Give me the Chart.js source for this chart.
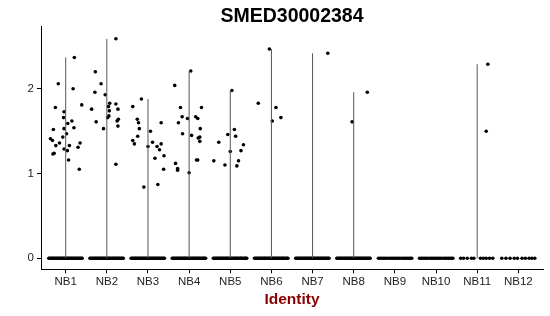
<!DOCTYPE html>
<html>
<head>
<meta charset="utf-8">
<script src="https://cdn.jsdelivr.net/npm/chart.js@4.4.1/dist/chart.umd.min.js"></script>
<style>
  html, body { margin: 0; padding: 0; background: #fff; }
  #wrap { width: 550px; height: 316px; }
</style>
</head>
<body>
<div id="wrap"><canvas id="c"></canvas></div>
<script>
const categories = ["NB1", "NB2", "NB3", "NB4", "NB5", "NB6", "NB7", "NB8", "NB9", "NB10", "NB11", "NB12"];
const yTicks = [0, 1, 2];

// violin extent (max expression) per identity
const violinMax = [2.37, 2.59, 1.88, 2.21, 1.98, 2.47, 2.42, 1.96, 0, 0, 2.29, 0];

// non-zero cells: [jitter offset, expression]
const nb1Points = [[0.21, 2.37], [-0.18, 2.06], [0.18, 2.0], [0.39, 1.81], [-0.25, 1.78], [-0.04, 1.73], [-0.05, 1.66], [0.15, 1.62], [0.05, 1.59], [0.2, 1.54], [-0.3, 1.52], [-0.04, 1.53], [0.02, 1.47], [-0.07, 1.43], [-0.37, 1.41], [-0.32, 1.39], [-0.15, 1.36], [0.35, 1.36], [-0.24, 1.33], [0.09, 1.33], [0.3, 1.31], [-0.04, 1.29], [0.04, 1.27], [-0.28, 1.24], [-0.31, 1.23], [0.07, 1.16], [0.33, 1.05]];
const nb2Points = [[0.22, 2.59], [-0.28, 2.2], [-0.14, 2.06], [-0.29, 1.96], [-0.04, 1.93], [0.07, 1.83], [0.22, 1.82], [0.04, 1.79], [-0.37, 1.76], [0.27, 1.76], [0.06, 1.74], [0.05, 1.68], [0.02, 1.66], [0.28, 1.64], [0.25, 1.62], [-0.26, 1.61], [0.27, 1.56], [-0.08, 1.53], [0.22, 1.11]];
const nb3Points = [[-0.16, 1.88], [-0.37, 1.79], [-0.26, 1.64], [-0.23, 1.6], [0.32, 1.6], [-0.21, 1.53], [0.06, 1.5], [-0.25, 1.44], [-0.37, 1.39], [-0.33, 1.35], [0.11, 1.37], [0.32, 1.35], [0.0, 1.32], [0.22, 1.32], [0.28, 1.28], [0.39, 1.21], [0.17, 1.18], [0.38, 1.05], [-0.1, 0.84], [0.24, 0.87]];
const nb4Points = [[0.04, 2.21], [-0.35, 2.04], [-0.21, 1.78], [0.3, 1.78], [-0.17, 1.67], [-0.04, 1.65], [0.16, 1.67], [0.21, 1.65], [-0.26, 1.6], [0.27, 1.53], [-0.16, 1.47], [0.06, 1.45], [0.26, 1.43], [0.22, 1.42], [0.26, 1.38], [0.18, 1.16], [0.21, 1.16], [-0.33, 1.12], [-0.28, 1.06], [-0.28, 1.04], [0.0, 1.01]];
const nb5Points = [[0.04, 1.98], [0.1, 1.52], [-0.06, 1.46], [0.13, 1.44], [-0.28, 1.37], [0.32, 1.34], [0.26, 1.27], [0.0, 1.26], [-0.4, 1.15], [0.2, 1.15], [-0.13, 1.1], [0.16, 1.09]];
const nb6Points = [[-0.05, 2.47], [-0.32, 1.83], [0.11, 1.78], [0.02, 1.62], [0.23, 1.66]];
const nb7Points = [[0.37, 2.42]];
const nb8Points = [[-0.04, 1.61], [0.33, 1.96]];
const nb11Points = [[0.26, 2.29], [0.22, 1.5]];

// jitter offsets of the zero-expression cells
const zeroDense = [-0.41, -0.39, -0.36, -0.34, -0.31, -0.29, -0.27, -0.24, -0.22, -0.19, -0.17, -0.15, -0.12, -0.1, -0.08, -0.05, -0.03, 0.0, 0.02, 0.04, 0.07, 0.09, 0.12, 0.14, 0.16, 0.19, 0.21, 0.24, 0.26, 0.28, 0.31, 0.33, 0.36, 0.38, 0.4];
const zeroMid = [-0.4, -0.36, -0.32, -0.28, -0.24, -0.2, -0.15, -0.11, -0.07, -0.03, 0.01, 0.05, 0.09, 0.13, 0.18, 0.22, 0.26, 0.3, 0.34, 0.38, 0.41];
const zeroNB11 = [-0.4, -0.33, -0.24, -0.14, -0.08, 0.08, 0.15, 0.22, 0.3, 0.38];
const zeroNB12 = [-0.4, -0.3, -0.2, -0.1, -0.02, 0.09, 0.17, 0.26, 0.33, 0.4];

const groupPoints = [nb1Points, nb2Points, nb3Points, nb4Points, nb5Points, nb6Points, nb7Points, nb8Points, [], [], nb11Points, []];
const groupZeros = [zeroDense, zeroDense, zeroDense, zeroDense, zeroDense, zeroDense, zeroDense, zeroDense, zeroMid, zeroMid, zeroNB11, zeroNB12];

const violinData = [];
violinMax.forEach((m, i) => {
  if (m > 0) violinData.push({ x: i + 1, y: 0 }, { x: i + 1, y: m }, { x: i + 1, y: null });
});

const exprData = [];
groupPoints.forEach((pts, i) => pts.forEach(([o, v]) => exprData.push({ x: i + 1 + o, y: v })));

const zeroData = [];
groupZeros.forEach((offs, i) => offs.forEach((o) => zeroData.push({ x: i + 1 + o, y: 0 })));

const FONT = "'Liberation Sans', Arial, sans-serif";

new Chart(document.getElementById("c"), {
  type: "scatter",
  data: {
    datasets: [
      {
        type: "line",
        data: violinData,
        borderColor: "#555",
        borderWidth: 1,
        pointRadius: 0,
        spanGaps: false,
        fill: false,
      },
      {
        data: zeroData,
        backgroundColor: "#000",
        borderWidth: 0,
        pointRadius: 1.8,
      },
      {
        data: exprData,
        backgroundColor: "#000",
        borderWidth: 0,
        pointRadius: 1.8,
      },
    ],
  },
  options: {
    responsive: true,
    maintainAspectRatio: false,
    animation: false,
    layout: { padding: { left: 0, right: 7, top: 0, bottom: 0 } },
    scales: {
      x: {
        type: "linear",
        min: 0.4,
        max: 12.6,
        afterBuildTicks: (s) => { s.ticks = categories.map((c, i) => ({ value: i + 1 })); },
        afterFit: (s) => { s.height = 46.7; },
        grid: { display: true, drawOnChartArea: false, drawTicks: true, tickLength: 4, color: "#000", lineWidth: 1 },
        border: { display: true, color: "#000", width: 1 },
        ticks: {
          color: "#222",
          padding: 2,
          font: { family: FONT, size: 11.5 },
          autoSkip: false,
          maxRotation: 0,
          callback: (v) => categories[Math.round(v) - 1],
        },
        title: {
          display: true,
          text: "Identity",
          color: "#8b0000",
          font: { family: FONT, size: 15.5, weight: "bold" },
          padding: { top: 2, bottom: 7 },
        },
      },
      y: {
        min: -0.13,
        max: 2.73,
        afterBuildTicks: (s) => { s.ticks = yTicks.map((v) => ({ value: v })); },
        afterFit: (s) => { s.width = 41; },
        grid: { display: true, drawOnChartArea: false, drawTicks: true, tickLength: 4, color: "#000", lineWidth: 1 },
        border: { display: true, color: "#000", width: 1 },
        ticks: {
          color: "#222",
          padding: 3,
          font: { family: FONT, size: 11.5 },
        },
      },
    },
    plugins: {
      legend: { display: false },
      tooltip: { enabled: false },
      title: {
        display: true,
        fullSize: false,
        text: "SMED30002384",
        color: "#000",
        font: { family: FONT, size: 19.5, weight: "bold", lineHeight: 1.1 },
        padding: { top: 5.5, bottom: 0 },
      },
    },
  },
});
</script>
</body>
</html>
